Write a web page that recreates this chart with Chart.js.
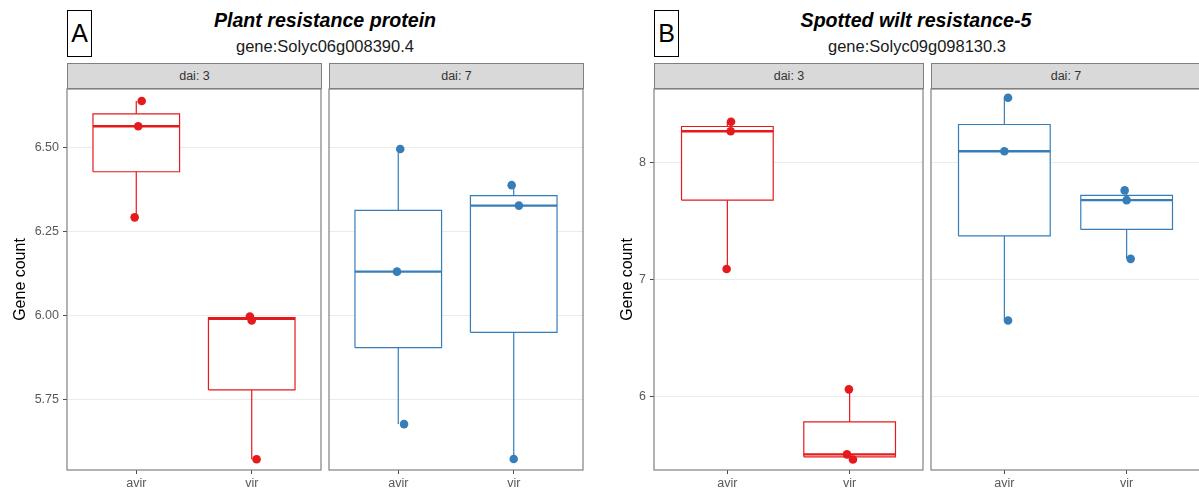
<!DOCTYPE html>
<html>
<head>
<meta charset="utf-8">
<script src="https://cdn.jsdelivr.net/npm/chart.js@4.4.1/dist/chart.umd.min.js"></script>
<style>
    body { margin: 0; width: 1199px; height: 490px; background: #fff; position: relative; overflow: hidden; font-family: "Liberation Sans", Arial, sans-serif; }
    .abs { position: absolute; }
    .tag { border: 1px solid #000; box-sizing: border-box; width: 25px; height: 47px; top: 10px; font-size: 25px; line-height: 45px; text-align: center; color: #000; }
    .title { font-size: 19.6px; line-height: 19px; font-weight: bold; font-style: italic; top: 11px; transform: translateX(-50%); white-space: nowrap; color: #000; }
    .subtitle { font-size: 16.5px; line-height: 16px; top: 38px; transform: translateX(-50%); white-space: nowrap; color: #1a1a1a; }
    .strip { background: #d9d9d9; border: 1px solid #808080; box-sizing: border-box; top: 63px; height: 26px; font-size: 12.5px; line-height: 24px; text-align: center; color: #333; }
    canvas { position: absolute; }
</style>
</head>
<body>

<div class="abs tag" style="left:67px">A</div>
<div class="abs title" style="left:325px">Plant resistance protein</div>
<div class="abs subtitle" style="left:325px">gene:Solyc06g008390.4</div>
<div class="abs strip" style="left:67px;width:255px">dai: 3</div>
<div class="abs strip" style="left:329px;width:255px">dai: 7</div>

<div class="abs tag" style="left:654px">B</div>
<div class="abs title" style="left:916px">Spotted wilt resistance-5</div>
<div class="abs subtitle" style="left:917px">gene:Solyc09g098130.3</div>
<div class="abs strip" style="left:654px;width:270px">dai: 3</div>
<div class="abs strip" style="left:931px;width:270px">dai: 7</div>

<canvas id="aDai3" width="322" height="402" style="left:0;top:88px"></canvas>
<canvas id="aDai7" width="256" height="402" style="left:328px;top:88px"></canvas>
<canvas id="bDai3" width="324" height="402" style="left:600px;top:88px"></canvas>
<canvas id="bDai7" width="271" height="402" style="left:930px;top:88px"></canvas>

<script>
// categories on the x axis of every facet
var categories = ["avir", "vir"];

// panel A: gene:Solyc06g008390.4
var aTicks = [5.75, 6.00, 6.25, 6.50];
var aRange = [5.539, 6.676];
// points (gene count) and horizontal jitter
var aDai3Avir = [6.640, 6.565, 6.293];
var aDai3AvirJit = [0.047, 0.017, -0.014];
var aDai3Vir = [5.997, 5.985, 5.571];
var aDai3VirJit = [-0.016, 0.000, 0.042];
var aDai7Avir = [6.497, 6.131, 5.676];
var aDai7AvirJit = [0.017, -0.011, 0.050];
var aDai7Vir = [6.389, 6.328, 5.572];
var aDai7VirJit = [-0.018, 0.045, 0.000];
// box stats: lower whisker, q1, median, q3, upper whisker
var aDai3AvirBox = [6.293, 6.429, 6.565, 6.602, 6.640];
var aDai3VirBox = [5.571, 5.778, 5.990, 5.994, 5.997];
var aDai7AvirBox = [5.676, 5.904, 6.131, 6.314, 6.497];
var aDai7VirBox = [5.572, 5.950, 6.328, 6.358, 6.389];

// panel B: gene:Solyc09g098130.3
var bTicks = [6, 7, 8];
var bRange = [5.375, 8.625];
var bDai3Avir = [8.346, 8.264, 7.090];
var bDai3AvirJit = [0.030, 0.027, -0.006];
var bDai3Vir = [6.063, 5.508, 5.465];
var bDai3VirJit = [-0.006, -0.022, 0.027];
var bDai7Avir = [8.551, 8.094, 6.650];
var bDai7AvirJit = [0.030, 0.000, 0.030];
var bDai7Vir = [7.760, 7.677, 7.176];
var bDai7VirJit = [-0.016, 0.000, 0.033];
var bDai3AvirBox = [7.090, 7.677, 8.264, 8.305, 8.346];
var bDai3VirBox = [5.465, 5.487, 5.508, 5.785, 6.063];
var bDai7AvirBox = [6.650, 7.372, 8.094, 8.322, 8.551];
var bDai7VirBox = [7.176, 7.427, 7.677, 7.718, 7.760];

var RED = "#E41A1C", BLUE = "#377EB8";
var FONT = "'Liberation Sans', Arial, sans-serif";

// tiny helper, jQuery-style extend without jQuery
var $ = { extend: function(t) {
    for (var i = 1; i < arguments.length; i++) for (var k in arguments[i]) t[k] = arguments[i][k];
    return t;
} };

var panelBorder = {
    id: "panelBorder",
    afterDraw: function(chart) {
        var a = chart.chartArea, ctx = chart.ctx;
        ctx.save();
        ctx.strokeStyle = "#808080";
        ctx.lineWidth = 1.2;
        ctx.strokeRect(a.left, a.top, a.right - a.left, a.bottom - a.top);
        ctx.restore();
    }
};

function boxDatasets(pos, box, pts, jit, color) {
    var half = 0.375, lo = box[0], q1 = box[1], med = box[2], q3 = box[3], hi = box[4];
    var line = { showLine: true, pointRadius: 0, borderColor: color, borderWidth: 1.2, fill: false };
    return [
        $.extend({}, line, { data: [{x: pos - half, y: q3}, {x: pos + half, y: q3}], fill: {value: q1}, backgroundColor: "#fff", borderWidth: 0, order: 6 }),
        $.extend({}, line, { data: [{x: pos - half, y: q1}, {x: pos + half, y: q1}, {x: pos + half, y: q3}, {x: pos - half, y: q3}, {x: pos - half, y: q1}], order: 5 }),
        $.extend({}, line, { data: [{x: pos, y: q3}, {x: pos, y: hi}], order: 4 }),
        $.extend({}, line, { data: [{x: pos, y: q1}, {x: pos, y: lo}], order: 4 }),
        $.extend({}, line, { data: [{x: pos - half, y: med}, {x: pos + half, y: med}], borderWidth: 2.4, order: 3 }),
        {
            data: pts.map(function(v, i) { return {x: pos + jit[i], y: v}; }),
            showLine: false, pointRadius: 4.3, pointBackgroundColor: color, pointBorderWidth: 0, order: 1
        }
    ];
}

function facetChart(id, opts) {
    var datasets = [];
    opts.groups.forEach(function(g, i) {
        datasets = datasets.concat(boxDatasets(i + 1, g.box, g.pts, g.jit, opts.color));
    });

    return new Chart(document.getElementById(id), {
        type: "scatter",
        data: { datasets: datasets },
        plugins: [panelBorder],
        options: {
            responsive: false,
            animation: false,
            events: [],
            devicePixelRatio: 1,
            layout: { autoPadding: false, padding: { top: 1, left: opts.padLeft || 0, right: 1, bottom: 0 } },
            plugins: { legend: { display: false }, tooltip: { enabled: false } },
            scales: {
                x: {
                    type: "linear", min: 0.4, max: 2.6,
                    border: { display: false },
                    grid: { drawOnChartArea: false, drawTicks: true, tickLength: 4, tickColor: "#4d4d4d", color: "rgba(0,0,0,0)" },
                    ticks: {
                        color: "#595959", padding: 2, maxRotation: 0, autoSkip: false,
                        font: { family: FONT, size: 12.5 },
                        callback: function(v) { return categories[v - 1]; }
                    },
                    afterBuildTicks: function(s) { s.ticks = categories.map(function(c, i) { return {value: i + 1}; }); },
                    afterFit: function(s) { s.height = 20; s.paddingLeft = 0; s.paddingRight = 0; }
                },
                y: {
                    min: opts.range[0], max: opts.range[1],
                    border: { display: false },
                    grid: { color: "#ebebeb", lineWidth: 1, drawTicks: opts.axis, tickLength: 4, tickColor: "#4d4d4d" },
                    ticks: {
                        display: opts.axis, color: "#595959", padding: 4,
                        font: { family: FONT, size: 12.5 },
                        callback: function(v) { return opts.fmt(v); }
                    },
                    title: {
                        display: opts.axis, text: "Gene count", color: "#000",
                        font: { family: FONT, size: 16 }, padding: { top: opts.titlePad || 0, bottom: 0 }
                    },
                    afterBuildTicks: function(s) { s.ticks = opts.ticks.map(function(v) { return {value: v}; }); },
                    afterFit: function(s) { s.width = opts.axisWidth; s.paddingTop = 0; s.paddingBottom = 0; }
                }
            }
        }
    });
}

var fmtA = function(v) { return v.toFixed(2); };
var fmtB = function(v) { return String(v); };

facetChart("aDai3", {
    color: RED, range: aRange, ticks: aTicks, fmt: fmtA, axis: true, axisWidth: 67, titlePad: 10.5,
    groups: [
        {box: aDai3AvirBox, pts: aDai3Avir, jit: aDai3AvirJit},
        {box: aDai3VirBox, pts: aDai3Vir, jit: aDai3VirJit}
    ]
});
facetChart("aDai7", {
    color: BLUE, range: aRange, ticks: aTicks, fmt: fmtA, axis: false, axisWidth: 0, padLeft: 1,
    groups: [
        {box: aDai7AvirBox, pts: aDai7Avir, jit: aDai7AvirJit},
        {box: aDai7VirBox, pts: aDai7Vir, jit: aDai7VirJit}
    ]
});
facetChart("bDai3", {
    color: RED, range: bRange, ticks: bTicks, fmt: fmtB, axis: true, axisWidth: 54, titlePad: 17.5,
    groups: [
        {box: bDai3AvirBox, pts: bDai3Avir, jit: bDai3AvirJit},
        {box: bDai3VirBox, pts: bDai3Vir, jit: bDai3VirJit}
    ]
});
facetChart("bDai7", {
    color: BLUE, range: bRange, ticks: bTicks, fmt: fmtB, axis: false, axisWidth: 0, padLeft: 1,
    groups: [
        {box: bDai7AvirBox, pts: bDai7Avir, jit: bDai7AvirJit},
        {box: bDai7VirBox, pts: bDai7Vir, jit: bDai7VirJit}
    ]
});
</script>
</body>
</html>
